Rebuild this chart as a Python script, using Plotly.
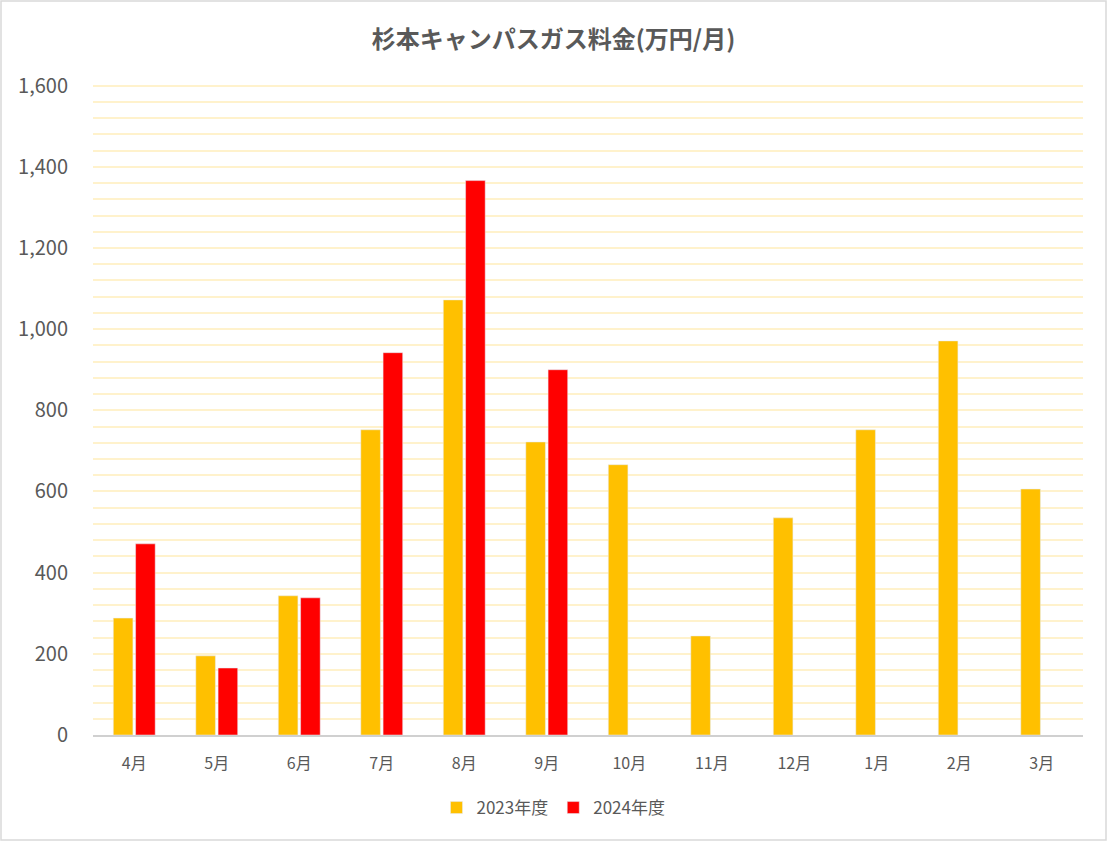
import plotly.graph_objects as go

months = ["4月", "5月", "6月", "7月", "8月", "9月", "10月", "11月", "12月", "1月", "2月", "3月"]
fy2023 = [288, 195, 343, 752, 1072, 722, 666, 244, 535, 752, 971, 606]
fy2024 = [471, 165, 338, 942, 1366, 900, None, None, None, None, None, None]
series_names = ["2023年度", "2024年度"]
y_ticks = [0, 200, 400, 600, 800, 1000, 1200, 1400, 1600]

W, H = 1107, 841
ml, mr, mt, mb = 93, 24, 84, 106
font = "Noto Sans CJK JP, Open Sans, sans-serif"

fig = go.Figure()
fig.add_trace(go.Bar(x=months, y=fy2023, name=series_names[0], marker_color="#FFC000"))
fig.add_trace(go.Bar(x=months, y=fy2024, name=series_names[1], marker_color="#FF0000"))

pw, ph = W - ml - mr, H - mt - mb
fig.update_layout(
    width=W, height=H,
    margin=dict(l=ml, r=mr, t=mt, b=mb),
    paper_bgcolor="white", plot_bgcolor="white",
    barmode="group", bargap=0.46, bargroupgap=0.12,
    title=dict(text="<b>杉本キャンパスガス料金(万円/月)</b>", x=0.5, xref="container", xanchor="center",
               y=1 - 40 / H, yref="container", yanchor="middle",
               font=dict(family=font, size=24, color="#595959")),
    font=dict(family=font, color="#595959"),
    legend=dict(orientation="h", xref="container", x=0.5, xanchor="center",
                yref="container", y=1 - 808 / H, yanchor="middle",
                font=dict(size=17, color="#595959"), itemwidth=30),
    xaxis=dict(showline=True, linecolor="#D0D0D0", linewidth=2, ticks="",
               tickfont=dict(size=16, color="#595959"), ticklabelstandoff=13),
    yaxis=dict(range=[0, 1604], tickvals=y_ticks, tickformat=",",
               showgrid=True, gridcolor="#FFF2CC", gridwidth=2,
               minor=dict(dtick=40, showgrid=True, gridcolor="#FFF2CC", gridwidth=2),
               zeroline=False, showline=False,
               tickfont=dict(size=20, color="#595959"), ticklabelstandoff=24),
    shapes=[dict(type="rect", xref="paper", yref="paper",
                 x0=(1 - ml) / pw, x1=(W - 1 - ml) / pw,
                 y0=-(mb - 1) / ph, y1=1 + (mt - 1) / ph,
                 line=dict(color="#D9D9D9", width=1.5), layer="below")],
)

fig.write_html("out.html")
